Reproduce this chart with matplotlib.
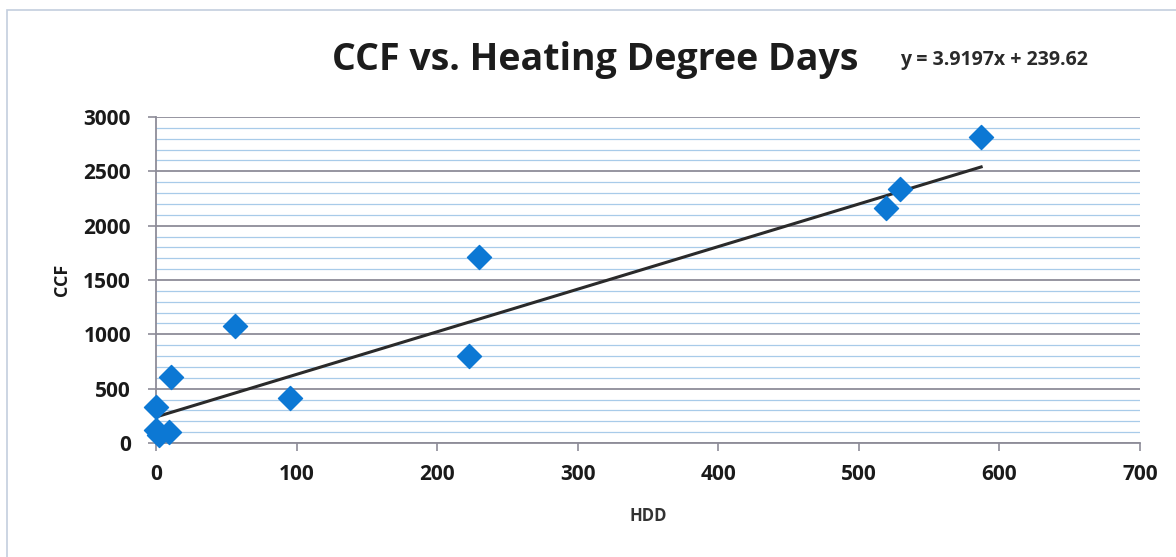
import numpy as np
import matplotlib
matplotlib.use('Agg')
import matplotlib.pyplot as plt
from matplotlib.patches import Rectangle
from matplotlib.ticker import MultipleLocator

# heating degree days vs. gas use
hdd = [587, 529, 519, 230, 223, 56, 95, 11, 0, 0, 9, 2]
ccf = [2820, 2340, 2160, 1710, 800, 1080, 415, 610, 330, 120, 100, 75]

# trendline as printed on the chart
slope = 3.9197
intercept = 239.62

x_ticks = [0, 100, 200, 300, 400, 500, 600, 700]
y_ticks = [0, 500, 1000, 1500, 2000, 2500, 3000]

plt.rcParams['font.family'] = ['Open Sans', 'DejaVu Sans']

fig = plt.figure(figsize=(11.76, 5.57), dpi=100)
fig.patches.append(Rectangle((7 / 1176, -0.1), 1.2, 1 - 10 / 557 + 0.1,
                             transform=fig.transFigure, fill=False,
                             edgecolor='#c4cede', linewidth=1.2))

ax = fig.add_axes([156 / 1176, 1 - 443 / 557, (1140 - 156) / 1176, (443 - 117) / 557])
ax.set_xlim(0, 700)
ax.set_ylim(0, 3000)

ax.yaxis.set_minor_locator(MultipleLocator(100))
ax.grid(which='minor', axis='y', color='#a8cbe9', linewidth=0.9)
ax.grid(which='major', axis='y', color='#8d8c98', linewidth=1.3)
ax.set_axisbelow(True)

xs = np.array([0, max(hdd)])
ax.plot(xs, slope * xs + intercept, color='#2a2a2a', linewidth=2.2, zorder=2)
ax.scatter(hdd, ccf, marker='D', s=150, color='#0c78d4', zorder=3, clip_on=False)

ax.set_xticks(x_ticks)
ax.set_yticks(y_ticks)
ax.tick_params(axis='both', which='major', labelsize=15, color='#8d8c98', length=6, width=1.2)
ax.tick_params(axis='y', which='minor', length=0)
for lab in ax.get_xticklabels() + ax.get_yticklabels():
    lab.set_fontweight('bold')
    lab.set_color('#1a1a1a')
ax.tick_params(axis='x', pad=9)
ax.tick_params(axis='y', pad=12)

for side in ['top', 'right']:
    ax.spines[side].set_visible(False)
for side in ['left', 'bottom']:
    ax.spines[side].set_color('#8d8c98')
    ax.spines[side].set_linewidth(1.3)

ax.set_xlabel('HDD', fontsize=12, fontweight='bold', color='#333333', labelpad=16)
ax.set_ylabel('CCF', fontsize=13, fontweight='bold', color='#1a1a1a', labelpad=9)

fig.text(332 / 1176, 1 - 60 / 557, 'CCF vs. Heating Degree Days', fontsize=27,
         fontweight='bold', color='#1c1c1c', va='center', ha='left')
fig.text(900 / 1176, 1 - 60 / 557, 'y = 3.9197x + 239.62', fontsize=14,
         fontweight='bold', color='#2a2a2a', va='center', ha='left')

fig.savefig('out.png', dpi=100, facecolor='white')
